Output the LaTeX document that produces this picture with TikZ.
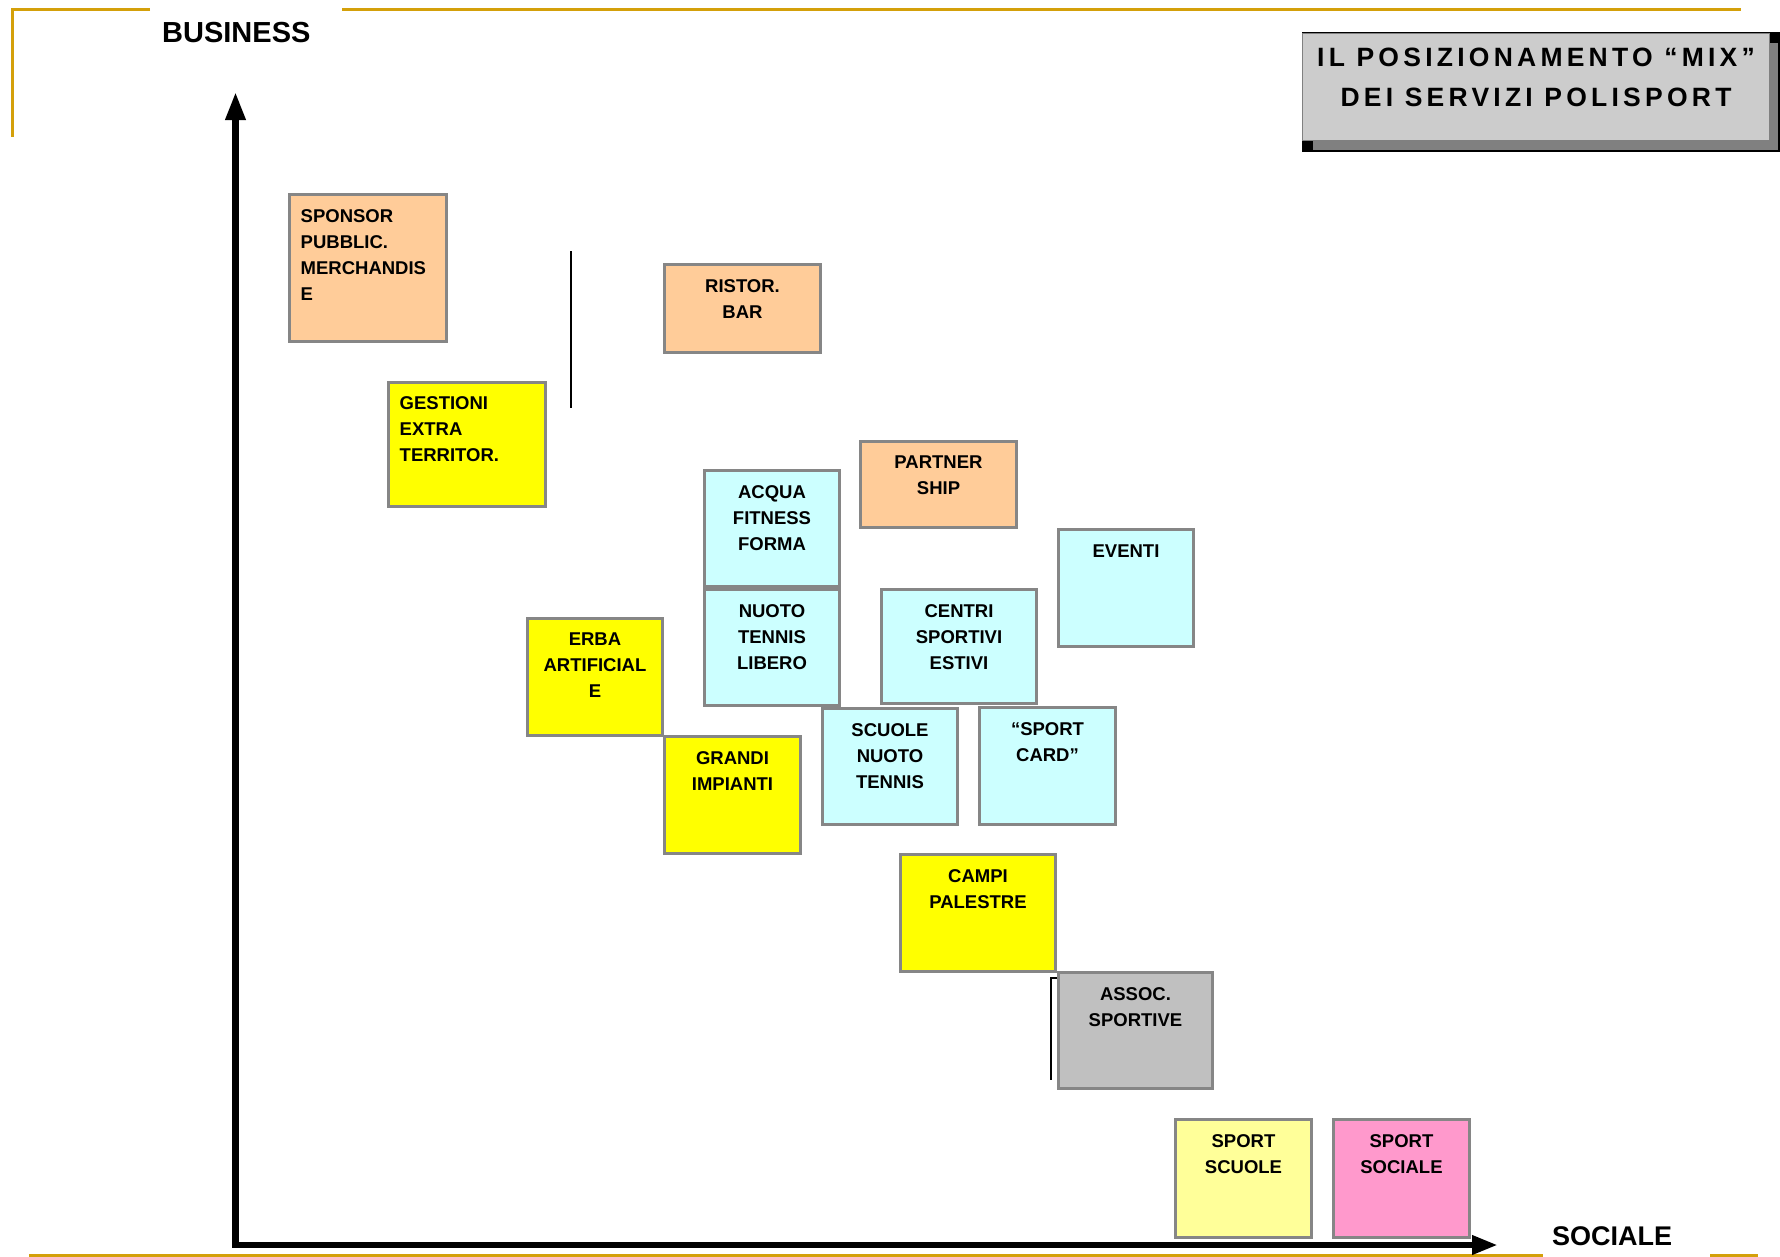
\documentclass[tikz,border=0pt]{standalone}
\usepackage{fontspec}
\setmainfont{Liberation Sans}
\newfontfamily\titlefont[LetterSpace=16]{Liberation Sans}
\usetikzlibrary{positioning,arrows.meta}

\definecolor{peach}{HTML}{FFCC99}
\definecolor{sunny}{HTML}{FFFF00}
\definecolor{aqua}{HTML}{CCFFFF}
\definecolor{ash}{HTML}{C0C0C0}
\definecolor{cream}{HTML}{FFFF99}
\definecolor{rose}{HTML}{FF99CC}
\definecolor{boxline}{HTML}{868686}
\definecolor{gold}{RGB}{212,160,10}
\definecolor{titlefill}{HTML}{CCCCCC}
\definecolor{shadowgray}{HTML}{808080}

\tikzset{
  svc/.style={draw=boxline, line width=3pt, inner sep=0pt},
  tag/.style={font=\bfseries\fontsize{18.5}{26}\selectfont, align=center, inner sep=0pt},
  tagl/.style={tag, align=left},
  frame/.style={draw=gold, line width=3pt},
  axis/.style={line width=6.5pt, line join=miter},
  thinline/.style={line width=1.4pt}
}

\begin{document}
\begin{tikzpicture}[x=1pt,y=-1pt]
\useasboundingbox (0,0) rectangle (1780,1256);

% gold frame
\draw[frame] (150,9) -- (12,9) -- (12,137);
\draw[frame] (342,9) -- (1741,9);
\draw[frame] (29,1255) -- (1543,1255);
\draw[frame] (1710,1255) -- (1758,1255);

% title
\fill[black] (1302,32) rectangle (1780,152);
\fill[shadowgray] (1313,43) rectangle (1778,150);
\node[draw=shadowgray, fill=titlefill, line width=1pt, minimum width=467pt, minimum height=107pt, inner sep=0pt] (title) at (1536,86.5) {};
\node[font=\titlefont\bfseries\fontsize{26.5}{40}\selectfont, align=center, inner sep=0pt, below=15pt of title.north] (title-t) {IL POSIZIONAMENTO “MIX”\\DEI SERVIZI POLISPORT};

% axes
\coordinate (origin) at (235.5,1245);
\coordinate (ytip) at (235.5,92);
\coordinate (xtip) at (1498,1245);
\draw[axis, {Triangle[length=28pt,width=19pt]}-{Triangle[length=26pt,width=18pt]}] (ytip) -- (origin) -- (xtip);
\node[font=\bfseries\fontsize{29}{34}\selectfont, anchor=base west, inner sep=0pt] (business) at (162,42) {BUSINESS};
\node[font=\bfseries\fontsize{27}{32}\selectfont, anchor=base west, inner sep=0pt] (sociale) at (1552,1245) {SOCIALE};

% services
\node[svc, fill=peach, minimum width=157pt, minimum height=147pt] (sponsor) at (368,268) {};
\node[tagl, below right=16pt and 12.5pt of sponsor.north west] (sponsor-t) {SPONSOR\\PUBBLIC.\\MERCHANDIS\\E};

\node[svc, fill=sunny, minimum width=157pt, minimum height=124pt] (gestioni) at (467,444.5) {};
\node[tagl, below right=15pt and 12.5pt of gestioni.north west] (gestioni-t) {GESTIONI\\EXTRA\\TERRITOR.};

\node[svc, fill=peach, minimum width=156pt, minimum height=88pt] (ristor) at (742.5,308.5) {};
\node[tag, below=16pt of ristor.north] (ristor-t) {RISTOR.\\BAR};

\node[svc, fill=peach, minimum width=156pt, minimum height=86pt] (partner) at (938.5,484.5) {};
\node[tag, below=16pt of partner.north] (partner-t) {PARTNER\\SHIP};

\node[svc, fill=aqua, minimum width=135pt, minimum height=116pt] (acqua) at (772,528.5) {};
\node[tag, below=16pt of acqua.north] (acqua-t) {ACQUA\\FITNESS\\FORMA};

\node[svc, fill=aqua, minimum width=135pt, minimum height=116pt] (nuoto) at (772,647.5) {};
\node[tag, below=16pt of nuoto.north] (nuoto-t) {NUOTO\\TENNIS\\LIBERO};

\node[svc, fill=aqua, minimum width=155pt, minimum height=114pt] (centri) at (959,646.5) {};
\node[tag, below=16pt of centri.north] (centri-t) {CENTRI\\SPORTIVI\\ESTIVI};

\node[svc, fill=aqua, minimum width=135pt, minimum height=117pt] (eventi) at (1126,588) {};
\node[tag, below=17pt of eventi.north] (eventi-t) {EVENTI};

\node[svc, fill=sunny, minimum width=135pt, minimum height=117pt] (erba) at (595,677) {};
\node[tag, below=16pt of erba.north] (erba-t) {ERBA\\ARTIFICIAL\\E};

\node[svc, fill=sunny, minimum width=136pt, minimum height=117pt] (grandi) at (732.5,795) {};
\node[tag, below=16pt of grandi.north] (grandi-t) {GRANDI\\IMPIANTI};

\node[svc, fill=aqua, minimum width=135pt, minimum height=116pt] (scuole) at (890,766.5) {};
\node[tag, below=16pt of scuole.north] (scuole-t) {SCUOLE\\NUOTO\\TENNIS};

\node[svc, fill=aqua, minimum width=136pt, minimum height=117pt] (card) at (1047.5,766) {};
\node[tag, below=16pt of card.north] (card-t) {“SPORT\\CARD”};

\node[svc, fill=sunny, minimum width=155pt, minimum height=117pt] (campi) at (978,913) {};
\node[tag, below=16pt of campi.north] (campi-t) {CAMPI\\PALESTRE};

\node[svc, fill=ash, minimum width=154pt, minimum height=116pt] (assoc) at (1135.5,1030.5) {};
\node[tag, below=16pt of assoc.north] (assoc-t) {ASSOC.\\SPORTIVE};

\node[svc, fill=cream, minimum width=136pt, minimum height=118pt] (scuolesp) at (1243.5,1178.5) {};
\node[tag, below=16pt of scuolesp.north] (scuolesp-t) {SPORT\\SCUOLE};

\node[svc, fill=rose, minimum width=136pt, minimum height=118pt] (socialesp) at (1401.5,1178.5) {};
\node[tag, below=16pt of socialesp.north] (socialesp-t) {SPORT\\SOCIALE};

% loose strokes
\coordinate (vtop) at (571,251);
\coordinate (vbot) at (571,408);
\draw[thinline] (vtop) -- (vbot);
\coordinate (btop) at (1051,978);
\coordinate (bbot) at (1051,1080);
\draw[thinline] (assoc.west |- btop) -- (btop) -- (bbot);
\end{tikzpicture}
\end{document}
